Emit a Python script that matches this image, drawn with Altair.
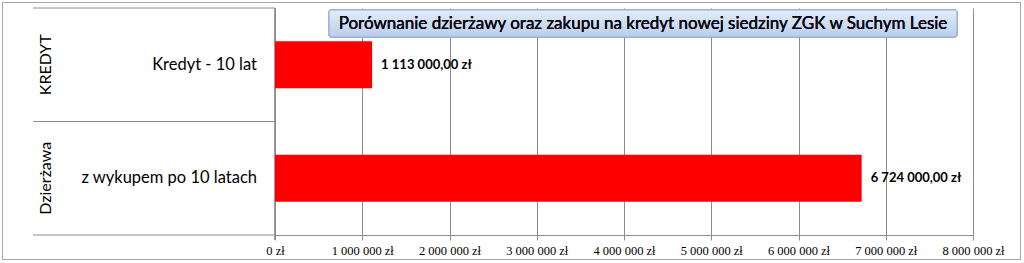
import altair as alt
import pandas as pd

categories = ["Kredyt - 10 lat", "z wykupem po 10 latach"]
groups = ["KREDYT", "Dzierżawa"]
values = [1113000, 6724000]
value_labels = ["1 113 000,00 zł", "6 724 000,00 zł"]
tick_values = [0, 1000000, 2000000, 3000000, 4000000, 5000000, 6000000, 7000000, 8000000]
tick_labels = ["0 zł", "1 000 000 zł", "2 000 000 zł", "3 000 000 zł", "4 000 000 zł",
               "5 000 000 zł", "6 000 000 zł", "7 000 000 zł", "8 000 000 zł"]
title_text = "Porównanie dzierżawy oraz zakupu na kredyt nowej siedziny ZGK w Suchym Lesie"

df = pd.DataFrame({"cat": categories, "grp": groups, "val": values, "lbl": value_labels})

label_expr = "[" + ",".join("'" + t + "'" for t in tick_labels) + "][round(datum.value/1000000)]"

FONT = "Lato"

xenc = alt.X("val:Q", scale=alt.Scale(domain=[0, 8000000], nice=False),
             axis=alt.Axis(values=tick_values, labelExpr=label_expr, title=None,
                           grid=True, gridColor="#8c8c8c", gridWidth=1,
                           domainColor="#8c8c8c", tickColor="#8c8c8c", tickSize=5,
                           labelFont="Liberation Serif", labelFontSize=12.5,
                           labelOverlap=False, labelFlush=False,
                           labelColor="#000000", labelPadding=4))
yenc = alt.Y("cat:N", scale=alt.Scale(domain=categories, paddingInner=0, paddingOuter=0),
             axis=None)

base = alt.Chart(df)

bars = base.mark_bar(color="#ff0000", size=47).encode(x=xenc, y=yenc)

vlabels = base.mark_text(align="left", baseline="middle", dx=9, font=FONT,
                         fontSize=13, fontWeight="bold", color="#000000").encode(
    x=alt.X("val:Q"), y=alt.Y("cat:N"), text="lbl:N")

inner = base.mark_text(align="right", baseline="middle", font=FONT, fontSize=16.5,
                       fontWeight="normal", color="#000000").encode(
    x=alt.value(-18), y=alt.Y("cat:N"), text="cat:N")

outer = base.mark_text(align="center", baseline="middle", font=FONT, fontSize=16,
                       fontWeight="normal", angle=270, color="#000000").encode(
    x=alt.value(-229), y=alt.Y("cat:N"), text="grp:N")

lines_df = pd.DataFrame({"yy": [0, 113.5, 227]})
hlines = alt.Chart(lines_df).mark_rule(color="#8c8c8c", strokeWidth=1).encode(
    x=alt.value(-242), x2=alt.value(0), y=alt.Y("yy:Q", scale=None))

vline = alt.Chart(lines_df).mark_rule(color="#8c8c8c", strokeWidth=1).encode(
    x=alt.value(0), y=alt.value(0), y2=alt.value(232))

border = alt.Chart(lines_df).mark_rect(fill=None, stroke="#a6a6a6", strokeWidth=1).encode(
    x=alt.value(-272.5), x2=alt.value(745.5), y=alt.value(-5.5), y2=alt.value(251.5))

title_box = alt.Chart(lines_df).mark_rect(
    fill=alt.Gradient(gradient="linear", x1=0, x2=0, y1=0, y2=1,
                      stops=[alt.GradientStop(color="#e4edf9", offset=0),
                             alt.GradientStop(color="#b9cdea", offset=1)]),
    stroke="#8eaad6", strokeWidth=1, cornerRadius=2).encode(
    x=alt.value(54), x2=alt.value(682), y=alt.value(2), y2=alt.value(29))

title_t = alt.Chart(lines_df).mark_text(align="center", baseline="middle", font=FONT,
                                        fontSize=17, fontWeight="normal",
                                        color="#0a0a14").encode(
    x=alt.value(368), y=alt.value(15.5), text=alt.value(title_text))

chart = alt.layer(border, hlines, vline, bars, vlabels, inner, outer, title_box, title_t).properties(
    width=698, height=227,
    padding={"left": 275, "top": 8, "right": 51, "bottom": 28},
    autosize=alt.AutoSizeParams(type="none"),
    background="#ffffff",
).configure_view(stroke=None)

chart.save("out.html", embed_options={"renderer": "svg", "actions": False})
